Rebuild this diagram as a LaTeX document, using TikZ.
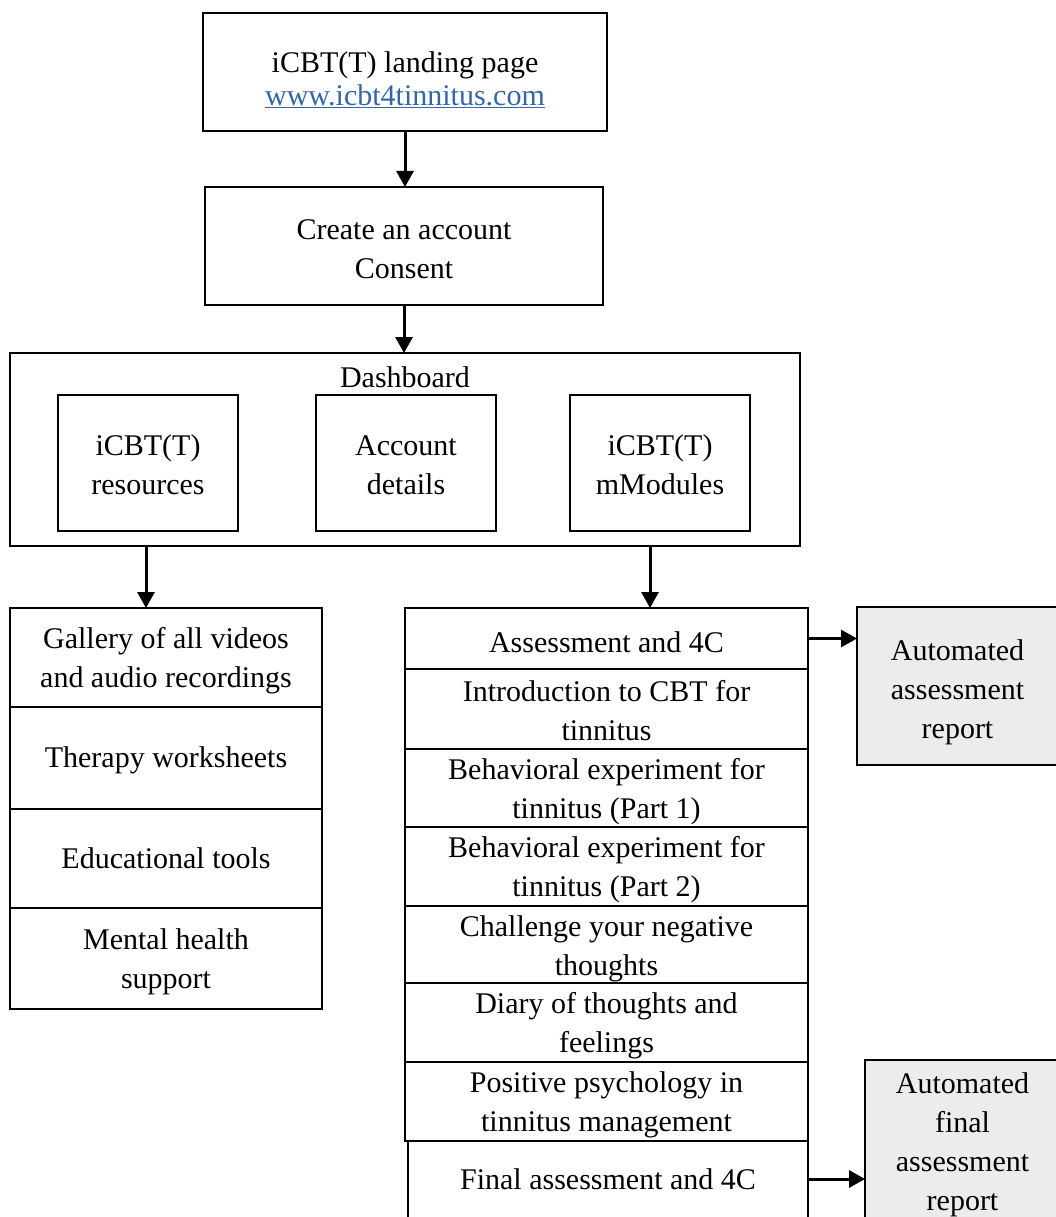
\documentclass[tikz,border=0pt]{standalone}
\usepackage{fontspec}
\setmainfont{Liberation Serif}
\usetikzlibrary{arrows.meta,calc}
\definecolor{urlblue}{HTML}{3566A8}
\definecolor{boxgray}{HTML}{ECECEC}
\newcommand{\lift}[1]{\rule{0pt}{#1pt}}
\begin{document}
\begin{tikzpicture}[x=1pt,y=-1pt,
  box/.style={draw=black,line width=2pt,inner sep=0pt,outer sep=0pt,align=center,
    font=\fontsize{30}{39}\selectfont},
  graybox/.style={box,fill=boxgray},
  arr/.style={-{Triangle[length=16pt,width=17pt]},line width=3pt}]
\useasboundingbox[fill=white] (0,0) rectangle (1056,1217);
% top part
\node[box,minimum width=404pt,minimum height=118pt,font=\fontsize{30}{33}\selectfont] (top) at (405,72)
  {\lift{36}iCBT(T) landing page\\ {\color{urlblue}\underline{www.icbt4tinnitus.com}}};
\node[box,minimum width=398pt,minimum height=118pt] (acct) at (404,246) {\lift{27}Create an account\\Consent};
\node[box,minimum width=790pt,minimum height=193pt] (dash) at (405,449.5) {};
\node[font=\fontsize{30}{39}\selectfont,inner sep=0pt] (dashlabel) at (405,377) {Dashboard};
\node[box,minimum width=180pt,minimum height=136pt] (res) at (148,463) {\lift{24}iCBT(T)\\resources};
\node[box,minimum width=180pt,minimum height=136pt] (det) at (406,463) {\lift{24}Account\\details};
\node[box,minimum width=180pt,minimum height=136pt] (mod) at (660,463) {\lift{24}iCBT(T)\\mModules};
% left stack
\node[box,minimum width=312pt,minimum height=99pt] (gal) at (166,657.5) {\lift{28}Gallery of all videos\\and audio recordings};
\node[box,minimum width=312pt,minimum height=102pt] (ther) at (166,758) {\lift{25}Therapy worksheets};
\node[box,minimum width=312pt,minimum height=99pt] (edu) at (166,858.5) {Educational tools};
\node[box,minimum width=312pt,minimum height=101pt] (ment) at (166,958.5) {\lift{28}Mental health\\support};
% right stack
\node[box,minimum width=403pt,minimum height=61pt] (assess) at (606.5,638.5) {\lift{28}Assessment and 4C};
\node[box,minimum width=403pt,minimum height=80pt] (intro) at (606.5,709) {\lift{25}Introduction to CBT for\\tinnitus};
\node[box,minimum width=403pt,minimum height=78pt] (beha) at (606.5,788) {\lift{28}Behavioral experiment for\\tinnitus (Part 1)};
\node[box,minimum width=403pt,minimum height=79pt] (behb) at (606.5,866.5) {\lift{27}Behavioral experiment for\\tinnitus (Part 2)};
\node[box,minimum width=403pt,minimum height=77pt] (chal) at (606.5,944.5) {\lift{29}Challenge your negative\\thoughts};
\node[box,minimum width=403pt,minimum height=79pt] (diary) at (606.5,1022.5) {\lift{28}Diary of thoughts and\\feelings};
\node[box,minimum width=403pt,minimum height=79pt] (pos) at (606.5,1101.5) {\lift{28}Positive psychology in\\tinnitus management};
\node[box,minimum width=400pt,minimum height=77pt] (final) at (608,1179) {Final assessment and 4C};
% gray boxes
\node[graybox,minimum width=201pt,minimum height=158pt] (auto1) at (957.5,686) {\lift{33}Automated\\assessment\\report};
\node[graybox,minimum width=195pt,minimum height=160pt] (auto2) at (962.5,1140) {\lift{31}Automated\\final\\assessment\\report};
% connectors
\coordinate (dl) at (146,546);
\coordinate (dr) at (650,546);
\draw[arr] (top.south) -- (top.south |- acct.north);
\draw[arr] (acct.south) -- (acct.south |- dash.north);
\draw[arr] (dl) -- (dl |- gal.north);
\draw[arr] (dr) -- (dr |- assess.north);
\draw[arr] (assess.east) -- (assess.east -| auto1.west);
\draw[arr] (final.east) -- (final.east -| auto2.west);
\end{tikzpicture}
\end{document}
